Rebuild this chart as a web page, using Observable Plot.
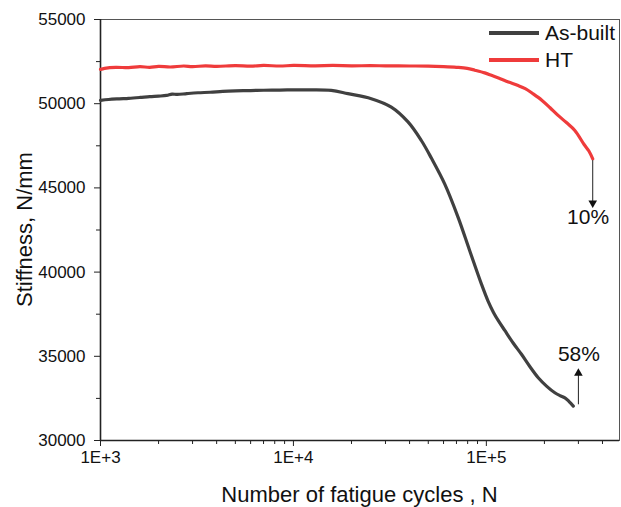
<!DOCTYPE html>
<html>
<head>
<meta charset="utf-8">
<script src="https://cdn.jsdelivr.net/npm/d3@7"></script>
<script src="https://cdn.jsdelivr.net/npm/@observablehq/plot@0.6"></script>
<style>
  html, body { margin: 0; padding: 0; background: #fff; }
  #chart { width: 621px; height: 507px; }
</style>
</head>
<body>
<div id="chart"></div>
<script>
// ---- Data ----
const seriesNames = ["As-built", "HT"];
const seriesColors = ["#404040", "#ef3b3b"];

const asBuiltN = [1000, 1100, 1250, 1400, 1600, 1800, 2000, 2200, 2350, 2500, 2800, 3200, 3700, 4300, 5000, 6000, 7000, 8500, 10000, 12000, 15700, 19160, 25320, 32160, 39260, 46030, 51880, 60810, 71390, 82000, 94330, 102200, 108900, 115600, 124600, 137700, 152100, 168000, 185800, 205100, 226500, 240500, 255400, 268500, 282300];
const asBuiltS = [50200, 50250, 50290, 50320, 50370, 50420, 50450, 50490, 50570, 50550, 50600, 50650, 50680, 50730, 50760, 50780, 50800, 50810, 50820, 50820, 50790, 50595, 50298, 49798, 48917, 47815, 46770, 45238, 43250, 41268, 39286, 38262, 37607, 37101, 36536, 35792, 35119, 34393, 33726, 33232, 32833, 32667, 32536, 32310, 32042];

const htN = [1000, 1050, 1200, 1400, 1600, 1800, 2000, 2300, 2700, 3000, 3500, 4000, 5000, 6000, 7000, 8500, 10000, 13000, 16000, 20000, 25000, 30000, 40000, 50000, 60000, 70000, 79600, 87200, 98100, 106200, 118000, 130100, 145000, 159100, 175000, 194400, 214000, 235400, 260000, 287500, 321200, 340000, 356000];
const htS = [52040, 52100, 52160, 52140, 52200, 52160, 52220, 52180, 52240, 52200, 52250, 52220, 52260, 52230, 52270, 52240, 52270, 52250, 52270, 52250, 52260, 52250, 52240, 52230, 52200, 52160, 52100, 51990, 51830, 51685, 51480, 51286, 51090, 50893, 50580, 50196, 49760, 49304, 48880, 48411, 47577, 47190, 46726];

// annotations: arrow start/end and label
const annLabels = ["10%", "58%"];
const annN = [356000, 300000];
const annFromS = [46650, 32150];
const annToS = [44100, 34000];
const annTextN = [337000, 302000];
const annTextS = [43250, 35100];

// ticks
const xMajor = [1e3, 1e4, 1e5];
const xMinor = [2e3,3e3,4e3,5e3,6e3,7e3,8e3,9e3,2e4,3e4,4e4,5e4,6e4,7e4,8e4,9e4,2e5,3e5,4e5];
const yMajor = [30000, 35000, 40000, 45000, 50000, 55000];
const yMinor = [32500, 37500, 42500, 47500, 52500];
const xTitle = "Number of fatigue cycles , N";
const yTitle = "Stiffness, N/mm";

// ---- Build tables ----
const lineData = [
  ...asBuiltN.map((n, i) => ({series: seriesNames[0], N: n, S: asBuiltS[i]})),
  ...htN.map((n, i) => ({series: seriesNames[1], N: n, S: htS[i]}))
];
const ann = annLabels.map((t, i) => ({
  label: t, N: annN[i], from: annFromS[i], to: annToS[i],
  tN: annTextN[i], tS: annTextS[i], down: annToS[i] < annFromS[i]
}));

const W = 621, H = 507;
const font = "'Liberation Sans', Arial, sans-serif";

const chart = Plot.plot({
  width: W,
  height: H,
  marginLeft: 100,
  marginRight: 2,
  marginTop: 19,
  marginBottom: 67,
  style: {fontFamily: font, fontSize: "17px", color: "#111", background: "#fff"},
  x: {type: "log", domain: [1000, 490000], label: null},
  y: {domain: [30000, 55000], label: null},
  color: {domain: seriesNames, range: seriesColors},
  marks: [
    Plot.axisX(xMinor, {tickSize: 4, tickFormat: () => "", label: null, stroke: "#222"}),
    Plot.axisX(xMajor, {tickSize: 6, tickPadding: 4, tickFormat: d => "1E+" + Math.round(Math.log10(d)), label: null, fontSize: 17, stroke: "#222"}),
    Plot.axisY(yMinor, {tickSize: 4, tickFormat: () => "", label: null, stroke: "#222"}),
    Plot.axisY(yMajor, {tickSize: 6, tickPadding: 9, tickFormat: d => String(d), label: null, fontSize: 17, stroke: "#222"}),
    Plot.frame({stroke: "#555", strokeWidth: 1}),
    Plot.ruleX([1000], {stroke: "#222", strokeWidth: 1.6}),
    Plot.ruleY([30000], {stroke: "#222", strokeWidth: 1.6}),
    Plot.line(lineData, {x: "N", y: "S", z: "series", stroke: "series", strokeWidth: 3.2, curve: "catmull-rom", strokeLinejoin: "round", strokeLinecap: "round"}),
    Plot.link(ann, {x1: "N", x2: "N", y1: "from", y2: "to", stroke: "#222", strokeWidth: 1}),
    Plot.dot(ann, {x: "N", y: "to", symbol: "triangle", r: 3.2, fill: "#111", stroke: "none",
      rotate: d => d.down ? 180 : 0}),
    Plot.text(ann, {x: "tN", y: "tS", text: "label", fontSize: 21, fill: "#111"})
  ]
});

document.getElementById("chart").appendChild(chart);

// axis titles and in-plot legend (pixel layout)
const svg = d3.select(chart);
svg.append("text")
  .attr("x", (100 + W - 2) / 2).attr("y", 502)
  .attr("text-anchor", "middle")
  .attr("font-size", 22).attr("font-family", font).attr("fill", "#111")
  .text(xTitle);
svg.append("text")
  .attr("transform", `translate(32, ${(19 + H - 67) / 2}) rotate(-90)`)
  .attr("text-anchor", "middle")
  .attr("font-size", 22).attr("font-family", font).attr("fill", "#111")
  .text(yTitle);

const leg = svg.append("g");
seriesNames.forEach((name, i) => {
  const y = 33 + i * 27;
  leg.append("line").attr("x1", 489).attr("x2", 539).attr("y1", y).attr("y2", y)
    .attr("stroke", seriesColors[i]).attr("stroke-width", 4);
  leg.append("text").attr("x", 545).attr("y", y).attr("dy", "0.35em")
    .attr("text-anchor", "start")
    .attr("font-size", 21).attr("font-family", font).attr("fill", "#111")
    .text(name);
});
</script>
</body>
</html>
